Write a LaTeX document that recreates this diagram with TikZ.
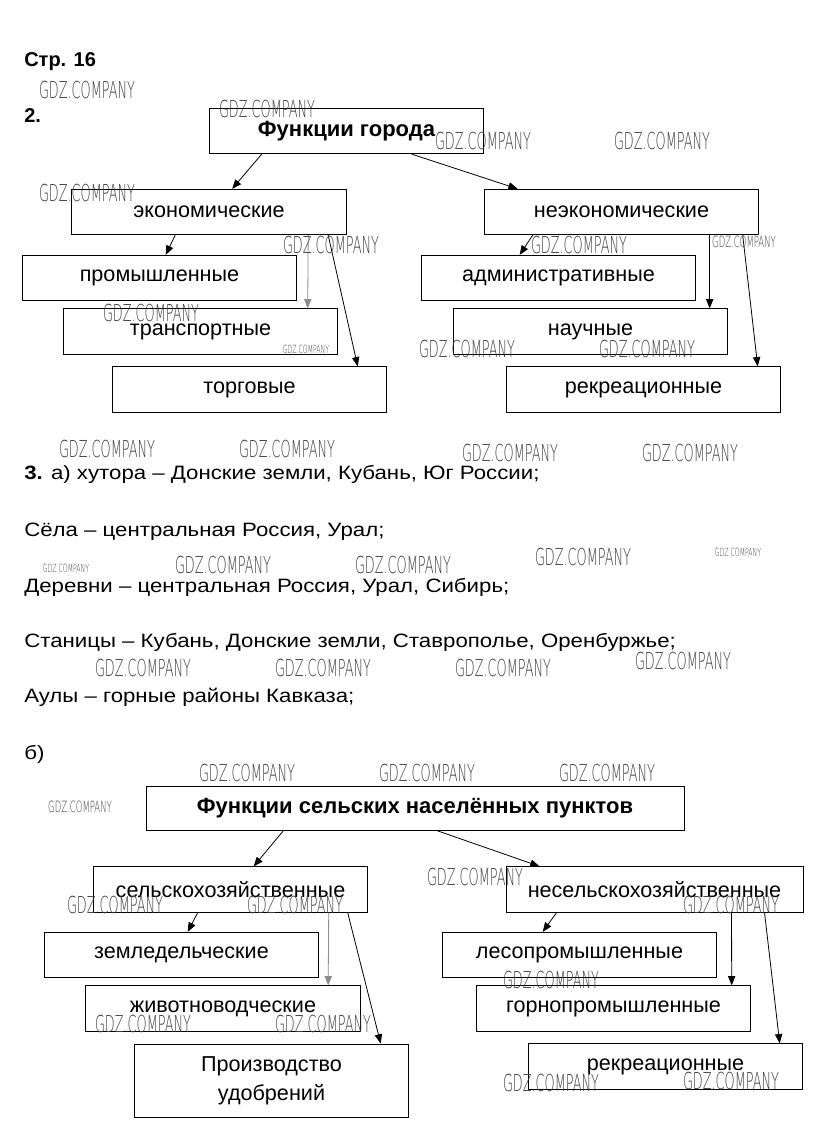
\documentclass[tikz,border=0pt]{standalone}
\usepackage{fontspec}
\setmainfont{Liberation Sans}
\newfontfamily\parafont[FakeStretch=1.15]{Liberation Sans}
\newfontfamily\wmfont[FakeStretch=0.55]{DejaVu Sans ExtraLight}
\usetikzlibrary{arrows.meta,calc}

\begin{document}
\begin{tikzpicture}[x=0.75pt,y=-0.75pt,
    fbox/.style={draw,line width=0.7pt,minimum width=206pt,minimum height=34pt,inner sep=0pt,font=\fontsize{16.2}{19}\selectfont},
    ftitle/.style={fbox,font=\fontsize{16.5}{19}\selectfont\bfseries},
    fline/.style={line width=0.6pt,-{Triangle[length=7pt,width=5.5pt]}},
    fgray/.style={fline,draw=black!45},
    para/.style={anchor=base west,inner sep=0pt,font=\parafont\fontsize{14.5}{17}\selectfont},
    head/.style={para,font=\fontsize{15}{18}\selectfont\bfseries},
    wm/.style={inner sep=0pt,text=black!75,font=\wmfont\fontsize{17.5}{18}\selectfont},
    wmsmall/.style={wm,font=\wmfont\fontsize{11.6}{12}\selectfont},
    wmtiny/.style={wm,font=\wmfont\fontsize{8.4}{9}\selectfont}]
  \useasboundingbox[fill=white] (0,0) rectangle (822,1140);

  % headings
  \node[head] (page) at (24,66) {Стр. 16};
  \node[head] (task2) at (24,122) {2.};

  % functions of the city
  \node[ftitle] (city) at (346.5,131) {Функции города};
  \node[fbox] (econ) at (209,212) {экономические};
  \node[fbox] (nonecon) at (621.5,212) {неэкономические};
  \node[fbox] (prom) at (159.5,278) {промышленные};
  \node[fbox] (trans) at (200.5,331.5) {транспортные};
  \node[fbox] (trade) at (249.5,389.5) {торговые};
  \node[fbox] (admin) at (558.5,278) {административные};
  \node[fbox] (sci) at (590.5,331.5) {научные};
  \node[fbox] (recr) at (643.5,389.5) {рекреационные};

  \draw[fline] ($(city.south west)+(53,0)$) -- ($(econ.north west)+(161,0)$);
  \draw[fline] ($(city.south west)+(203,0)$) -- ($(nonecon.north west)+(34,0)$);
  \draw[fline] ($(econ.south west)+(104,0)$) -- ($(prom.north west)+(144,0)$);
  \draw[fgray] ($(econ.south west)+(237,0)$) -- ($(trans.north west)+(245,0)$);
  \draw[fline] ($(econ.south west)+(257,0)$) -- ($(trade.north west)+(246,0)$);
  \draw[fline] ($(nonecon.south west)+(49,0)$) -- ($(admin.north west)+(99,0)$);
  \draw[fline] ($(nonecon.south west)+(226,0)$) -- ($(sci.north west)+(257,0)$);
  \draw[fline] ($(nonecon.south west)+(259,0)$) -- ($(recr.north west)+(252,0)$);

  % task 3
  \node[para] (lineA) at (24,479) {\textbf{3.} а) хутора – Донские земли, Кубань, Юг России;};
  \node[para] (lineB) at (24,536) {Сёла – центральная Россия, Урал;};
  \node[para] (lineC) at (24,592) {Деревни – центральная Россия, Урал, Сибирь;};
  \node[para] (lineD) at (24,647) {Станицы – Кубань, Донские земли, Ставрополье, Оренбуржье;};
  \node[para] (lineE) at (24,702) {Аулы – горные районы Кавказа;};
  \node[para] (lineF) at (24,759) {б)};

  % functions of rural settlements
  \node[ftitle,minimum width=403.5pt,minimum height=33pt] (rural) at (415,808) {Функции сельских населённых пунктов};
  \node[fbox] (agri) at (230.5,889.5) {сельскохозяйственные};
  \node[fbox,minimum width=222.75pt] (nonagri) at (654.5,889.5) {несельскохозяйственные};
  \node[fbox] (farm) at (181.5,955) {земледельческие};
  \node[fbox] (live) at (223,1008.5) {животноводческие};
  \node[fbox,minimum height=54.75pt,align=center] (fert) at (271.5,1080.5) {Производство\\[3pt]удобрений};
  \node[fbox] (forest) at (579.5,955) {лесопромышленные};
  \node[fbox] (mine) at (613.5,1008.5) {горнопромышленные};
  \node[fbox] (recr2) at (665.5,1066.5) {рекреационные};

  \draw[fline] ($(rural.south west)+(138,0)$) -- ($(agri.north west)+(161,0)$);
  \draw[fline] ($(rural.south west)+(291,0)$) -- ($(nonagri.north west)+(34,0)$);
  \draw[fline] ($(agri.south west)+(105,0)$) -- ($(farm.north west)+(144,0)$);
  \draw[fgray] ($(agri.south west)+(236,0)$) -- ($(live.north west)+(243,0)$);
  \draw[fline] ($(agri.south west)+(255,0)$) -- ($(fert.north west)+(247,0)$);
  \draw[fline] ($(nonagri.south west)+(51,0)$) -- ($(forest.north west)+(101,0)$);
  \draw[fline] ($(nonagri.south west)+(226,0)$) -- ($(mine.north west)+(256,0)$);
  \draw[fline] ($(nonagri.south west)+(259,0)$) -- ($(recr2.north west)+(252,0)$);

  % watermarks
  \foreach \wx/\wy in {87/90,267/109,483/141,662/141,87/193,331/245,579/245,151/313,
      467/349,647/349,107/449,287/449,510/453,690/453,223/565,403/565,583/557,
      143/668,323/668,503/668,683/661,247/773,427/773,607/773,475/877,115/905,
      295/905,731/905,551/980,143/1024,323/1024,551/1083,731/1081}
    \node[wm] at (\wx,\wy) {GDZ.COMPANY};
  \node[wmsmall] at (744,242) {GDZ.COMPANY};
  \node[wmsmall] at (80,807) {GDZ.COMPANY};
  \node[wmtiny] at (306,349) {GDZ.COMPANY};
  \node[wmtiny] at (66,568) {GDZ.COMPANY};
  \node[wmtiny] at (738,552) {GDZ.COMPANY};
\end{tikzpicture}
\end{document}
